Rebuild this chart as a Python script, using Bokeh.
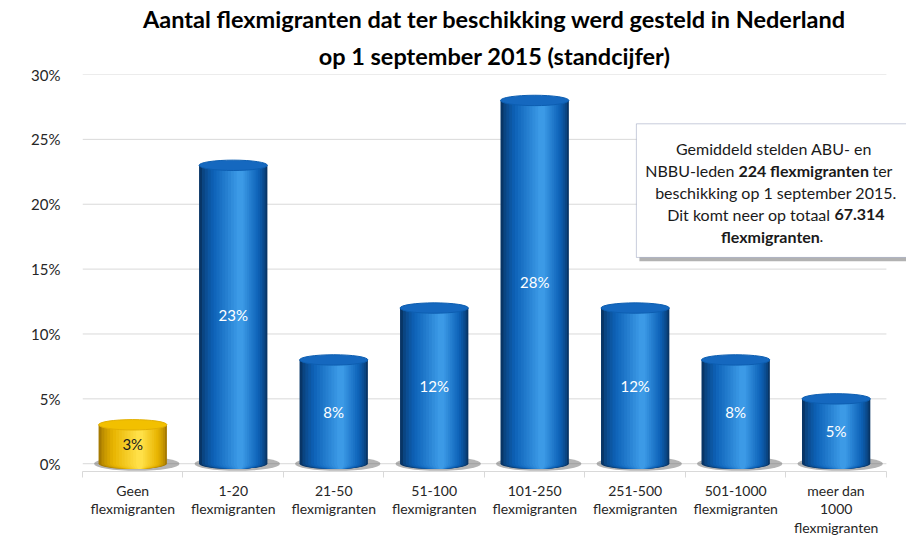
import numpy as np
from bokeh.plotting import figure
from bokeh.models import Title, BoxAnnotation, Label, FixedTicker, Range1d, ColumnDataSource
from bokeh.core.properties import value
from bokeh.embed import file_html
from bokeh.resources import INLINE

# ---- data ----
categories = ["Geen\nflexmigranten", "1-20\nflexmigranten", "21-50\nflexmigranten",
              "51-100\nflexmigranten", "101-250\nflexmigranten", "251-500\nflexmigranten",
              "501-1000\nflexmigranten", "meer dan\n1000\nflexmigranten"]
shares = [0.03, 0.23, 0.08, 0.12, 0.28, 0.12, 0.08, 0.05]
share_labels = ["3%", "23%", "8%", "12%", "28%", "12%", "8%", "5%"]
y_ticks = [0.0, 0.05, 0.10, 0.15, 0.20, 0.25, 0.30]
y_tick_labels = ["0%", "5%", "10%", "15%", "20%", "25%", "30%"]
title_lines = ["Aantal flexmigranten dat ter beschikking werd gesteld in Nederland",
               "op 1 september 2015 (standcijfer)"]

FONT = "Lato"

# ---- styles: cylinder shading (edge colour -> highlight colour) ----
def mix(c1, c2, t):
    a = [int(c1[i:i + 2], 16) for i in (1, 3, 5)]
    b = [int(c2[i:i + 2], 16) for i in (1, 3, 5)]
    return "#%02x%02x%02x" % tuple(int(round(a[k] + (b[k] - a[k]) * t)) for k in range(3))

N_LAYERS = 14
def shade_layers(edge, mid, light):
    out = []
    for k in range(N_LAYERS):
        t = k / (N_LAYERS - 1)
        frac = 1.0 - 0.9 * t
        off = 0.10 * t
        if t < 0.35:
            col = mix(edge, mid, (t / 0.35) ** 0.7)
        else:
            col = mix(mid, light, (t - 0.35) / 0.65)
        out.append((frac, off, col))
    return out

blue_layers = shade_layers("#083566", "#0d62b8", "#3c9ae6")
yellow_layers = shade_layers("#a67a00", "#e8b400", "#ffe048")
cap_blue = "#1568bf"
cap_yellow = "#f2c000"
BAR_W = 0.68
ELL_H = 0.008

n = len(categories)
xs = np.arange(n) + 0.5

p = figure(width=906, height=538, output_backend="svg", toolbar_location=None,
           x_range=Range1d(0, 8.2), y_range=Range1d(-0.006, 0.30),
           title=title_lines[0], min_border_left=82, min_border_right=0,
           min_border_bottom=0)
p.add_layout(Title(text=title_lines[1], align="center", text_font=FONT,
                   text_font_size="23.5px", text_font_style="bold", text_color="#000000"), "above")
p.title.align = "center"
p.title.text_font = FONT
p.title.text_font_size = "23.5px"
p.title.text_font_style = "bold"
p.title.text_color = "#000000"
p.title.standoff = 4

p.outline_line_color = None
p.background_fill_color = "white"
p.xgrid.grid_line_color = None
p.ygrid.grid_line_color = None

# gridlines limited to the category span
p.segment(x0=[0] * len(y_ticks), x1=[n] * len(y_ticks), y0=y_ticks, y1=y_ticks,
          line_color="#d9d9d9", line_width=1)

# y axis
p.yaxis.ticker = FixedTicker(ticks=y_ticks)
p.yaxis.major_label_overrides = {t: l for t, l in zip(y_ticks, y_tick_labels)}
p.yaxis.axis_line_color = None
p.yaxis.major_tick_line_color = None
p.yaxis.minor_tick_line_color = None
p.yaxis.major_label_text_font = FONT
p.yaxis.major_label_text_font_size = "15px"
p.yaxis.major_label_text_color = "#262626"
p.yaxis.major_label_standoff = 16

# x axis
p.xaxis.bounds = (0, n)
p.xaxis.ticker = FixedTicker(ticks=list(xs), minor_ticks=list(range(n + 1)))
p.xaxis.major_label_overrides = {float(x): c for x, c in zip(xs, categories)}
p.xaxis.axis_line_color = "#d9d9d9"
p.xaxis.major_tick_line_color = None
p.xaxis.minor_tick_line_color = "#d9d9d9"
p.xaxis.minor_tick_out = 6
p.xaxis.minor_tick_in = 0
p.xaxis.major_label_text_font = FONT
p.xaxis.major_label_text_font_size = "14px"
p.xaxis.major_label_text_line_height = 1.1
p.xaxis.major_label_text_color = "#262626"
p.xaxis.major_label_standoff = 4

# floor shadows
p.ellipse(x=xs + 0.04, y=np.zeros(n), width=BAR_W * 1.25, height=0.011,
          fill_color="#6a6a6a", fill_alpha=0.5, line_color=None)

# cylinders
for i in range(n):
    layers = yellow_layers if i == 0 else blue_layers
    cap = cap_yellow if i == 0 else cap_blue
    for frac, off, col in layers:
        xc = xs[i] + off * BAR_W
        w = BAR_W * frac
        p.ellipse(x=[xc], y=[0], width=w, height=ELL_H, fill_color=col, line_color=None)
        p.vbar(x=[xc], top=[shares[i]], bottom=0, width=w, fill_color=col, line_color=None)
    p.ellipse(x=[xs[i]], y=[shares[i]], width=BAR_W, height=ELL_H,
              fill_color=cap, line_color=layers[4][2], line_width=1)

# value labels
src = ColumnDataSource(dict(x=xs, y=np.array(shares) / 2, t=share_labels,
                            c=["#1a1a1a"] + ["#ffffff"] * (n - 1)))
p.text(x="x", y="y", text="t", text_color="c", source=src, text_align="center",
       text_baseline="middle", text_font_size="15px", text_font=value(FONT))

# info box
p.add_layout(BoxAnnotation(left=5.542, right=8.4, top=0.259, bottom=0.156,
                           fill_color="#7f7f7f", fill_alpha=0.6, line_color=None))
p.add_layout(BoxAnnotation(left=5.512, right=8.4, top=0.262, bottom=0.159,
                           fill_color="white", fill_alpha=1.0, line_color="#4a5a8a", line_width=1))

def lab(x, y, text, align="center", bold=False):
    p.add_layout(Label(x=x, y=y, text=text, text_align=align, text_baseline="middle",
                       text_font=FONT, text_font_size="16px",
                       text_font_style="bold" if bold else "normal", text_color="#1a1a1a"))

lab(6.881, 0.2427, "Gemiddeld stelden ABU- en")
lab(6.488, 0.2257, "NBBU-leden", align="right")
lab(6.527, 0.2257, "224 flexmigranten", align="left", bold=True)
lab(7.861, 0.2257, "ter", align="left")
lab(6.900, 0.2087, "beschikking op 1 september 2015.")
lab(7.443, 0.1924, "Dit komt neer op totaal", align="right")
lab(7.483, 0.1924, "67.314", align="left", bold=True)
lab(6.846, 0.1754, "flexmigranten", bold=True)
lab(7.333, 0.1754, ".", align="left")

open("out.html", "w").write(file_html(p, INLINE))
